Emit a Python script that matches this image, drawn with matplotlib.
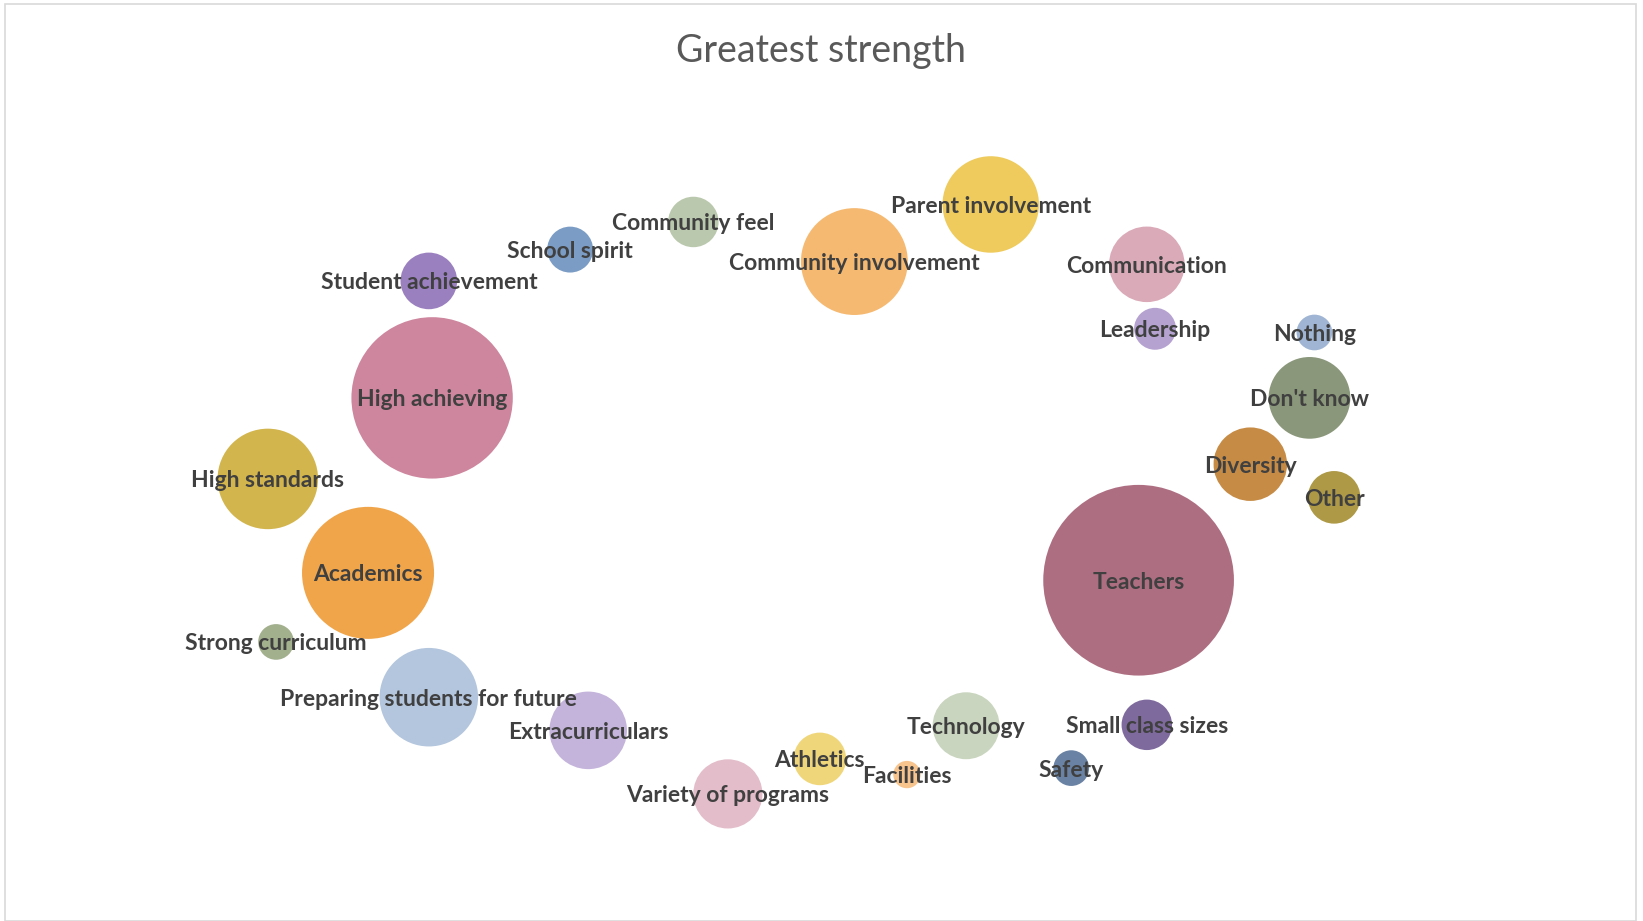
import numpy as np
import matplotlib
matplotlib.use('Agg')
from matplotlib import pyplot as plt
import matplotlib.patches as patches

labels = ['Student achievement', 'School spirit', 'Community feel', 'Community involvement',
          'Parent involvement', 'Communication', 'Leadership', 'Nothing', "Don't know",
          'Diversity', 'Other', 'Teachers', 'Small class sizes', 'Safety', 'Technology',
          'Facilities', 'Athletics', 'Variety of programs', 'Extracurriculars',
          'Preparing students for future', 'Strong curriculum', 'Academics',
          'High standards', 'High achieving']
x_vals = [26.1, 34.7, 42.2, 52.0, 60.3, 69.8, 70.3, 80.0, 79.7, 76.1, 81.2, 69.3,
          69.8, 65.2, 58.8, 55.2, 49.9, 44.3, 35.8, 26.1, 16.8, 22.4, 16.3, 26.3]
y_vals = [69.5, 72.9, 75.9, 71.6, 77.8, 71.3, 64.3, 63.9, 56.8, 49.6, 46.0, 37.0,
          21.3, 16.6, 21.2, 15.9, 17.6, 13.8, 20.7, 24.3, 30.3, 37.8, 48.0, 56.8]
sizes = [7.3, 4.8, 5.8, 26.0, 21.2, 13.0, 4.0, 2.9, 15.2, 12.3, 6.3, 82.8,
         5.8, 2.9, 10.2, 1.7, 6.3, 10.9, 13.7, 22.1, 2.9, 39.7, 23.0, 59.3]
colors = ['#9b80c0', '#7b9cc4', '#bac8ad', '#f5b971', '#eecb5c', '#dbaab9', '#b5a2d0',
          '#9fb5d3', '#8a977a', '#c68b45', '#ad9946', '#ae6e82', '#7f6a9e', '#6a83a4',
          '#c9d5be', '#f8c48e', '#f0d67a', '#e3bdc9', '#c4b4db', '#b3c6dd', '#a3b08e',
          '#f0a54a', '#d3b54e', '#cd869d']

dpi = 100
fig = plt.figure(figsize=(16.43, 9.21), dpi=dpi)
ax = fig.add_axes([0., 0., 1., 1.])
ax.set_axis_off()
ax.set_xlim(0, 100)
ax.set_ylim(0, 100)

# bubble area proportional to value
radius_px = 10.478 * np.sqrt(np.array(sizes))
s = (2 * radius_px * 72 / dpi) ** 2
ax.scatter(x_vals, y_vals, s=s, c=colors, linewidths=0, zorder=2)

for lab, x, y in zip(labels, x_vals, y_vals):
    ax.text(x, y, lab, ha='center', va='center_baseline', fontsize=16.5, fontweight='bold',
            family='Lato', color='#404040', zorder=3)

fig.text(0.4995, 0.945, 'Greatest strength', ha='center', va='center', fontsize=27,
         family='Lato', color='#595959')

fig.patches.append(patches.Rectangle((0.003, 0.0), 0.993, 0.996, transform=fig.transFigure,
                                     fill=False, edgecolor='#d9d9d9', linewidth=1.2))

fig.savefig('out.png', dpi=dpi)
